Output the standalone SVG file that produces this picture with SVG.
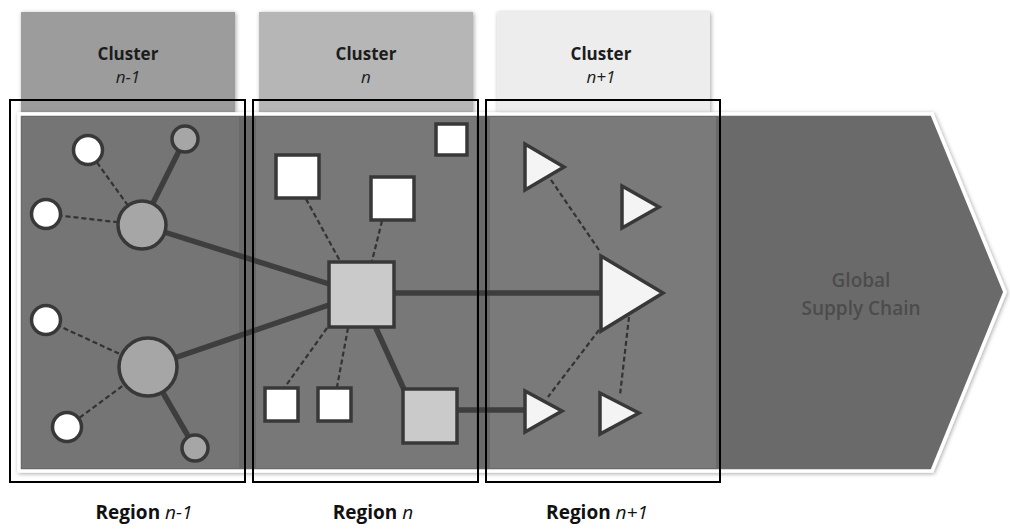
<svg xmlns="http://www.w3.org/2000/svg" width="1010" height="532" viewBox="0 0 1010 532">
<defs>
<filter id="sh" x="-10%" y="-10%" width="120%" height="130%">
<feDropShadow dx="1" dy="1" stdDeviation="2" flood-color="#000" flood-opacity="0.35"/>
</filter>
</defs>
<style>
.tablbl{font-family:"Open Sans","Liberation Sans",sans-serif;font-size:17px;font-weight:bold;fill:#1c1c1c;text-anchor:middle}
.it{font-style:italic;font-weight:normal}
.reg{font-family:"Open Sans","Liberation Sans",sans-serif;font-size:19px;font-weight:bold;fill:#111;text-anchor:middle}
.gsc{font-family:"Open Sans","Liberation Sans",sans-serif;font-size:19px;font-weight:600;fill:#4c4c4c;text-anchor:middle}
.box{fill:none;stroke:#000;stroke-width:2}
.solid{stroke:#3e3e3e;stroke-width:5.5;fill:none}
.dash{stroke:#333333;stroke-width:2.2;stroke-dasharray:5 3;fill:none}
.wn{fill:#ffffff;stroke:#383838;stroke-width:3.5}
.gn{fill:#a6a6a6;stroke:#383838;stroke-width:3.5}
.ln{fill:#cacaca;stroke:#383838;stroke-width:3.5}
.tn{fill:#f4f4f4;stroke:#383838;stroke-width:3.5;stroke-linejoin:miter}
</style>
<rect width="1010" height="532" fill="#ffffff"/>

<g id="tabs">
<rect x="21" y="12" width="214" height="100" fill="#9c9c9c" filter="url(#sh)"/>
<rect x="259" y="12" width="214" height="100" fill="#b6b6b6" filter="url(#sh)"/>
<rect x="497" y="12" width="213" height="100" fill="#ededed" filter="url(#sh)"/>
</g>

<g id="supply-chain">
<polygon points="19,114 932,114 1005,292 932,471 19,471" fill="#6b6b6b" stroke="#ffffff" stroke-width="3.5" filter="url(#sh)"/>
<rect x="22" y="117" width="217" height="351" fill="#757575"/>
<rect x="256" y="117" width="220" height="351" fill="#787878"/>
<rect x="490" y="117" width="226" height="351" fill="#7a7a7a"/>
<text class="gsc" x="861" y="287">Global</text>
<text class="gsc" x="861" y="315">Supply Chain</text>
</g>

<g id="cluster-labels">
<text class="tablbl" x="128" y="60">Cluster</text>
<text class="tablbl it" x="128" y="83">n-1</text>
<text class="tablbl" x="366" y="60">Cluster</text>
<text class="tablbl it" x="366" y="83">n</text>
<text class="tablbl" x="601" y="60">Cluster</text>
<text class="tablbl it" x="601" y="83">n+1</text>
</g>

<g id="connectors">
<line class="solid" x1="142" y1="225" x2="185" y2="139"/>
<line class="solid" x1="142" y1="225" x2="361" y2="294"/>
<line class="solid" x1="148" y1="367" x2="361" y2="294"/>
<line class="solid" x1="148" y1="367" x2="195" y2="448"/>
<line class="dash" x1="142" y1="225" x2="88" y2="150"/>
<line class="dash" x1="142" y1="225" x2="46" y2="214"/>
<line class="dash" x1="148" y1="367" x2="46" y2="320"/>
<line class="dash" x1="148" y1="367" x2="67" y2="427"/>
<line class="dash" x1="306" y1="199" x2="340" y2="261"/>
<line class="dash" x1="382" y1="221" x2="372" y2="261"/>
<line class="dash" x1="327" y1="328" x2="285" y2="387"/>
<line class="dash" x1="348" y1="328" x2="337" y2="387"/>
<line class="solid" x1="375" y1="326" x2="407" y2="396"/>
<line class="solid" x1="395" y1="293" x2="602" y2="293"/>
<line class="solid" x1="458" y1="410" x2="525" y2="410"/>
<line class="dash" x1="599" y1="250" x2="549" y2="177"/>
<line class="dash" x1="599" y1="330" x2="548" y2="397"/>
<line class="dash" x1="629" y1="317" x2="620" y2="395"/>
</g>

<g id="node-c1"><circle class="wn" cx="88" cy="150" r="14.5"/></g>
<g id="node-c2"><circle class="gn" cx="185" cy="139" r="13"/></g>
<g id="node-c3"><circle class="wn" cx="46" cy="214" r="14.5"/></g>
<g id="node-c4"><circle class="gn" cx="142" cy="225" r="24"/></g>
<g id="node-c5"><circle class="wn" cx="46" cy="320" r="14.5"/></g>
<g id="node-c6"><circle class="gn" cx="148" cy="367" r="29"/></g>
<g id="node-c7"><circle class="wn" cx="67" cy="427" r="14.5"/></g>
<g id="node-c8"><circle class="gn" cx="195" cy="448" r="13"/></g>

<g id="node-s1"><rect class="wn" x="436" y="124" width="31" height="31"/></g>
<g id="node-s2"><rect class="wn" x="276" y="155" width="43" height="43"/></g>
<g id="node-s3"><rect class="wn" x="371" y="177" width="43" height="43"/></g>
<g id="node-s4"><rect class="ln" x="329" y="262" width="65" height="65"/></g>
<g id="node-s5"><rect class="wn" x="265" y="388" width="33" height="33"/></g>
<g id="node-s6"><rect class="wn" x="318" y="388" width="33" height="33"/></g>
<g id="node-s7"><rect class="ln" x="403" y="389" width="54" height="54"/></g>

<g id="node-t1"><polygon class="tn" points="525,144 525,190 564,167"/></g>
<g id="node-t2"><polygon class="tn" points="622,186 622,228 659,207"/></g>
<g id="node-t3"><polygon class="tn" points="601,256 601,331 663,293"/></g>
<g id="node-t4"><polygon class="tn" points="525,391 525,432 562,411"/></g>
<g id="node-t5"><polygon class="tn" points="600,393 600,434 639,413"/></g>

<g id="regions">
<rect class="box" x="10" y="100" width="235" height="382"/>
<rect class="box" x="253" y="100" width="225" height="382"/>
<rect class="box" x="486" y="100" width="234" height="382"/>
<text class="reg" x="144" y="519">Region <tspan font-style="italic" font-weight="normal">n-1</tspan></text>
<text class="reg" x="373" y="519">Region <tspan font-style="italic" font-weight="normal">n</tspan></text>
<text class="reg" x="597" y="519">Region <tspan font-style="italic" font-weight="normal">n+1</tspan></text>
</g>
</svg>
